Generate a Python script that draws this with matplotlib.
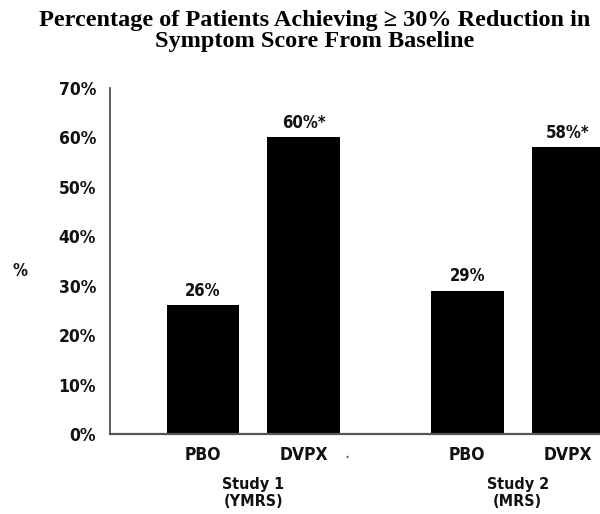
import matplotlib
matplotlib.use("Agg")
import matplotlib.pyplot as plt

categories = ["PBO", "DVPX", "PBO", "DVPX"]
values = [26, 60, 29, 58]
value_labels = ["26%", "60%*", "29%", "58%*"]
positions = [0, 1, 2.63, 3.63]
study_labels = ["Study 1\n(YMRS)", "Study 2\n(MRS)"]
yticks = [0, 10, 20, 30, 40, 50, 60, 70]
ytick_labels = [f"{v}%" for v in yticks]

cond = dict(family="DejaVu Sans", stretch="condensed", weight="bold")

fig = plt.figure(figsize=(6.0, 5.14), dpi=100)
ax = fig.add_axes([110/600, 1-434/514, 1-110/600, (434-88)/514])

ax.bar(positions, values, width=0.72, color="black", zorder=2)
for x, v, lab in zip(positions, values, value_labels):
    ax.text(x, v + 1.1, lab, ha="center", va="bottom", fontsize=12, color="#111111", **cond)

ax.set_xlim(-0.925, 3.95)
ax.set_ylim(0, 70)
ax.set_yticks(yticks)
ax.set_yticklabels(ytick_labels, fontsize=12.5, color="#111111", **cond)
ax.tick_params(axis="y", length=0, pad=10)
ax.tick_params(axis="x", length=0, pad=9)
ax.set_xticks(positions)
ax.set_xticklabels(categories, fontsize=12.5, color="#111111", **cond)
for s in ["top", "right"]:
    ax.spines[s].set_visible(False)
ax.spines["left"].set_color("#555555")
ax.spines["bottom"].set_color("#555555")
ax.spines["left"].set_linewidth(1.3)
ax.spines["bottom"].set_linewidth(1.6)

# study group labels
for i, lab in enumerate(study_labels):
    cx = (positions[2*i] + positions[2*i+1]) / 2
    ax.text(cx, -0.125, lab, transform=ax.get_xaxis_transform(), ha="center", va="top",
            fontsize=11.5, color="#111111", linespacing=1.15, **cond)

# small stray dot present in the reference
ax.text(1.43, -0.055, ".", transform=ax.get_xaxis_transform(), ha="center", va="center",
        fontsize=12, color="#555555")

fig.text(20/600, 1-271/514, "%", ha="center", va="center", fontsize=12, color="#111111", **cond)
fig.text(0.525, 1-31/514, "Percentage of Patients Achieving \u2265 30% Reduction in\nSymptom Score From Baseline",
         ha="center", va="center", fontsize=17.5, family="Liberation Serif", weight="bold",
         linespacing=0.95)

fig.savefig("out.png", dpi=100)
